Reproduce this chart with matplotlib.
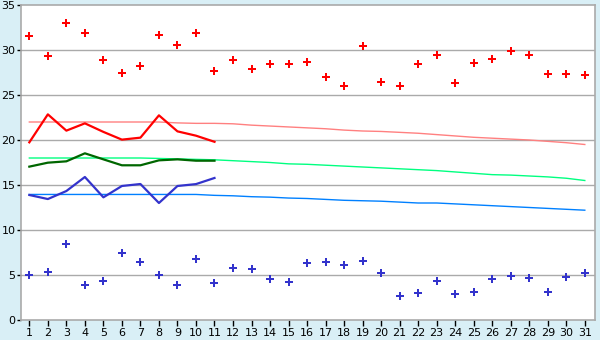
import matplotlib
matplotlib.use("Agg")
import matplotlib.pyplot as plt

days = list(range(1, 32))

# daily maxima / minima (markers)
t_max = [31.6, 29.3, 33.0, 31.85, 28.85, 27.4, 28.2, 31.7, 30.6, 31.85, 27.7,
         28.85, 27.85, 28.5, 28.5, 28.7, 26.95, 25.95, 30.4, 26.5, 25.95, 28.5,
         29.5, 26.3, 28.6, 28.95, 29.85, 29.4, 27.3, 27.3, 27.2]
t_min = [5.0, 5.3, 8.4, 3.85, 4.3, 7.4, 6.4, 5.0, 3.85, 6.75, 4.07,
         5.74, 5.63, 4.52, 4.19, 6.3, 6.4, 6.07, 6.52, 5.19, 2.63, 2.96,
         4.3, 2.85, 3.07, 4.52, 4.85, 4.63, 3.07, 4.74, 5.19]

# running lines, first 11 days only
line_days = days[:11]
run_max = [19.74, 22.85, 21.04, 21.85, 20.9, 20.04, 20.26, 22.74, 20.96, 20.48, 19.8]
run_mean = [17.04, 17.48, 17.63, 18.52, 17.85, 17.19, 17.19, 17.74, 17.85, 17.7, 17.7]
run_min = [13.89, 13.44, 14.33, 15.89, 13.63, 14.89, 15.11, 13.0, 14.89, 15.1, 15.78]

# normals
norm_max = [22.0, 22.0, 22.0, 22.0, 22.0, 22.0, 22.0, 22.0, 21.9, 21.85, 21.85,
            21.8, 21.65, 21.55, 21.45, 21.35, 21.25, 21.1, 21.0, 20.95, 20.85,
            20.75, 20.6, 20.45, 20.3, 20.2, 20.1, 20.0, 19.85, 19.7, 19.5]
norm_mean = [18.0, 18.0, 18.0, 18.0, 18.0, 18.0, 18.0, 17.95, 17.9, 17.85, 17.8,
             17.7, 17.6, 17.5, 17.35, 17.3, 17.2, 17.1, 17.0, 16.9, 16.8,
             16.7, 16.6, 16.45, 16.3, 16.15, 16.1, 16.0, 15.9, 15.75, 15.5]
norm_min = [13.95, 13.95, 13.95, 13.95, 13.95, 13.95, 13.95, 13.95, 13.95, 13.95, 13.85,
            13.8, 13.7, 13.65, 13.55, 13.5, 13.4, 13.3, 13.25, 13.2, 13.1,
            13.0, 13.0, 12.9, 12.8, 12.7, 12.6, 12.5, 12.4, 12.3, 12.2]

bg = "#d9eff6"
fig = plt.figure(figsize=(6, 3.4), dpi=100, facecolor=bg)
ax = fig.add_axes([21 / 600, 20 / 340, 574 / 600, 315 / 340])
ax.set_facecolor("white")

for y in range(5, 35, 5):
    ax.axhline(y, color="#aaaaaa", lw=1, zorder=1)

ax.plot(days, norm_max, color="#ff8080", lw=1, zorder=2)
ax.plot(days, norm_mean, color="#00ff80", lw=1, zorder=2)
ax.plot(days, norm_min, color="#0080ff", lw=1, zorder=2)

ax.plot(line_days, run_max, color="#ff0000", lw=1.6, zorder=3)
ax.plot(line_days, run_mean, color="#006600", lw=1.6, zorder=3)
ax.plot(line_days, run_min, color="#3333cc", lw=1.6, zorder=3)

ax.plot(days, t_max, ls="none", marker="P", ms=6, color="#ff0000", mew=0, zorder=4)
ax.plot(days, t_min, ls="none", marker="P", ms=6, color="#3333cc", mew=0, zorder=4)

ax.set_xlim(0.55, 31.55)
ax.set_ylim(0, 35)
ax.set_xticks(days)
ax.set_yticks(range(0, 40, 5))
ax.tick_params(axis="both", labelsize=8, length=4, width=1, color="black", pad=2)
ax.tick_params(axis="y", length=3, pad=1)
for s in ax.spines.values():
    s.set_color("#aaaaaa")
    s.set_linewidth(1.2)

fig.savefig("out.png", dpi=100, facecolor=bg)
